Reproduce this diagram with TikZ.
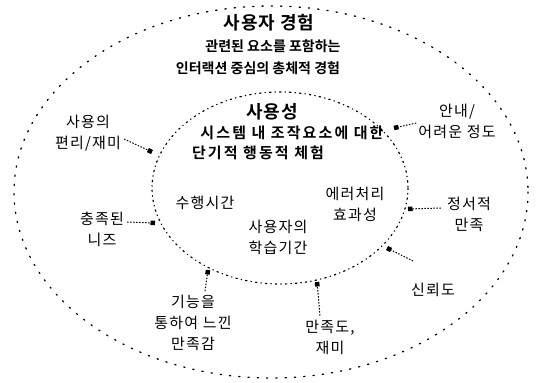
\documentclass[tikz,border=0pt]{standalone}
\usepackage{fontspec}
\setmainfont{Noto Sans CJK KR}
\newfontfamily\krb{Noto Sans CJK KR Bold}
\newfontfamily\krsp[LetterSpace=8]{Noto Sans CJK KR}
\newfontfamily\krbsp[LetterSpace=14]{Noto Sans CJK KR Bold}
\newfontfamily\krbt[LetterSpace=5]{Noto Sans CJK KR Bold}
\usetikzlibrary{arrows.meta}
\begin{document}
\begin{tikzpicture}[x=1pt,y=-1pt,
  lbl/.style={align=center,inner sep=0pt,font=\krsp\fontsize{15}{21}\selectfont},
  ttl/.style={align=center,inner sep=0pt,font=\krbt\fontsize{18}{22}\selectfont},
  sub/.style={align=center,inner sep=0pt,font=\krb\fontsize{14}{20}\selectfont},
  subsp/.style={align=center,inner sep=0pt,font=\krbsp\fontsize{15}{20}\selectfont},
  outerring/.style={line width=1.3pt,dash pattern=on 1.3pt off 8pt,line cap=round},
  innerring/.style={line width=1.2pt,dash pattern=on 1.5pt off 4pt on 0.5pt off 4pt,line cap=round},
  conn/.style={line width=1pt,dash pattern=on 1.5pt off 1.5pt,-{Square[length=4.5pt,width=4.5pt]}}]
\useasboundingbox (0,0) rectangle (539,383);
% rings
\draw[outerring] (271,192) ellipse [x radius=257, y radius=186];
\draw[innerring] (280,188) ellipse [x radius=128, y radius=96];
% outer titles
\node[ttl] (t1) at (269,23) {사용자 경험};
\node[sub] (t2) at (273,46) {관련된 요소를 포함하는};
\node[sub] (t3) at (258,68) {인터랙션 중심의 총체적 경험};
% inner titles
\node[ttl] (u1) at (272,112) {사용성};
\node[subsp] (u2) at (292,133) {시스템 내 조작요소에 대한};
\node[subsp] (u3) at (258,153) {단기적 행동적 체험};
% inner labels
\node[lbl] (i1) at (205,203) {수행시간};
\node[lbl] (i2) at (278,237) {사용자의\\학습기간};
\node[lbl] (i3) at (355,204) {에러처리\\효과성};
% outer labels
\node[lbl] (o1) at (88,133) {사용의\\편리/재미};
\node[lbl] (o2) at (102,229) {충족된\\니즈};
\node[lbl] (o3) at (457,121) {안내/\\어려운 정도};
\node[lbl] (o4) at (469,214) {정서적\\만족};
\node[lbl] (o5) at (433,290) {신뢰도};
\node[lbl] (o6) at (330,337) {만족도,\\재미};
\node[lbl] (o7) at (193,323) {기능을\\통하여 느낀\\만족감};
% attachment points on the inner ring
\coordinate (p1) at (152,152);
\coordinate (p2) at (155,223);
\coordinate (p3) at (394,128);
\coordinate (p4) at (408,209);
\coordinate (p5) at (387,248);
\coordinate (p6) at (317,282);
\coordinate (p7) at (208,270);
% connectors
\draw[conn] ([shift={(3,6)}]o1.east) -- (p1);
\draw[conn] ([shift={(3,-7)}]o2.east) -- (p2);
\draw[conn] ([shift={(-2,2)}]o3.west) -- (p3);
\draw[conn] ([shift={(-6,-6)}]o4.west) -- (p4);
\draw[conn] ([shift={(-20,-22)}]o5.north) -- (p5);
\draw[conn] ([shift={(-10,-4)}]o6.north) -- (p6);
\draw[conn] ([shift={(12,-4)}]o7.north) -- (p7);
\end{tikzpicture}
\end{document}
